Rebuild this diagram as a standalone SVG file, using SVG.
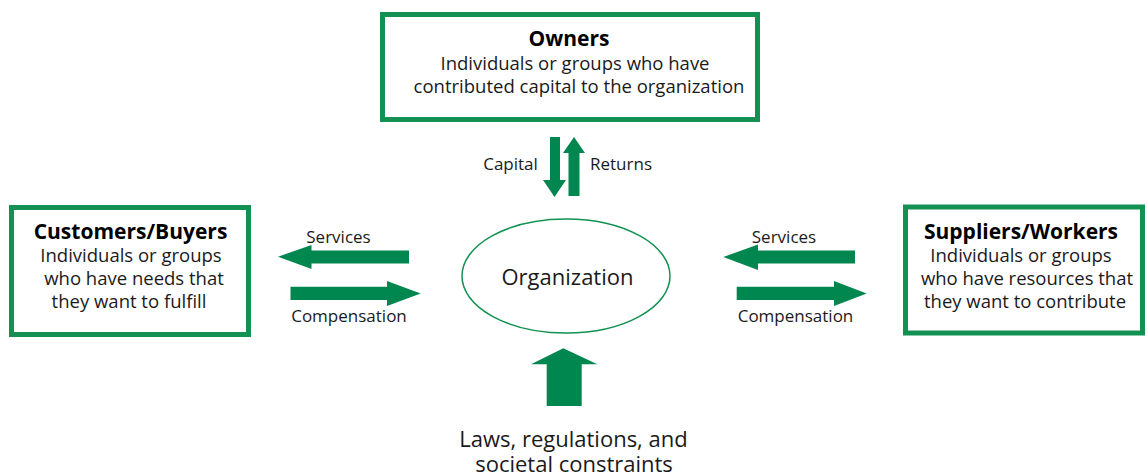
<svg xmlns="http://www.w3.org/2000/svg" width="1147" height="475" viewBox="0 0 1147 475">
<style>
.box{fill:#fff;stroke:#139152;stroke-width:5}
.org{fill:#fff;stroke:#139152;stroke-width:1.5}
.arr{fill:#00864f}
text{font-family:"Open Sans","Noto Sans",sans-serif;fill:#1a1a1a;text-anchor:middle}
.t{font-size:21px;font-weight:bold;fill:#000}
.b{font-size:18.5px}
.l{font-size:17px}
.big{font-size:22px}
</style>
<rect width="1147" height="475" fill="#fff"/>
<g id="owners">
<rect class="box" x="382.5" y="14.5" width="375" height="105"/>
<text class="t" x="569" y="46">Owners</text>
<text class="b" x="575" y="70">Individuals or groups who have</text>
<text class="b" x="579" y="93">contributed capital to the organization</text>
</g>
<g id="customers">
<rect class="box" x="11.5" y="207.5" width="237" height="127"/>
<text class="t" x="130.5" y="239">Customers/Buyers</text>
<text class="b" x="131" y="262">Individuals or groups</text>
<text class="b" x="134" y="285">who have needs that</text>
<text class="b" x="129" y="308">they want to fulfill</text>
</g>
<g id="suppliers">
<rect class="box" x="905.5" y="207" width="237" height="126"/>
<text class="t" x="1021" y="239">Suppliers/Workers</text>
<text class="b" x="1021" y="262">Individuals or groups</text>
<text class="b" x="1027" y="285">who have resources that</text>
<text class="b" x="1025" y="308">they want to contribute</text>
</g>
<g id="organization">
<ellipse class="org" cx="566" cy="276" rx="104" ry="57"/>
<text class="big" x="567.5" y="285">Organization</text>
</g>
<g id="constraints">
<text class="big" x="573.5" y="446.5">Laws, regulations, and</text>
<text class="big" x="574" y="472">societal constraints</text>
</g>
<g id="connectors">
<polygon class="arr" points="550,137 560,137 560,180 566,180 554.5,197 543,180 550,180"/>
<polygon class="arr" points="568.5,196 579.5,196 579.5,153 585,153 574,137 563,153 568.5,153"/>
<polygon class="arr" points="409,250.5 311.5,250.5 311.5,245 278,256.7 311.5,269 311.5,263.5 409,263.5"/>
<polygon class="arr" points="290.5,286.7 387,286.7 387,281 420.7,293.5 387,306 387,300 290.5,300"/>
<polygon class="arr" points="855,250.5 758,250.5 758,244.5 723.3,257 758,270 758,263.5 855,263.5"/>
<polygon class="arr" points="736.7,286.7 834,286.7 834,281 866.7,293.5 834,306 834,300 736.7,300"/>
<polygon class="arr" points="546.7,406 581.7,406 581.7,364.3 597.3,364.3 563.3,348.3 531,364.3 546.7,364.3"/>
<text class="l" x="510.5" y="170">Capital</text>
<text class="l" x="621" y="170">Returns</text>
<text class="l" x="338.5" y="243">Services</text>
<text class="l" x="349" y="322">Compensation</text>
<text class="l" x="784" y="243">Services</text>
<text class="l" x="795.5" y="322">Compensation</text>
</g>
</svg>
